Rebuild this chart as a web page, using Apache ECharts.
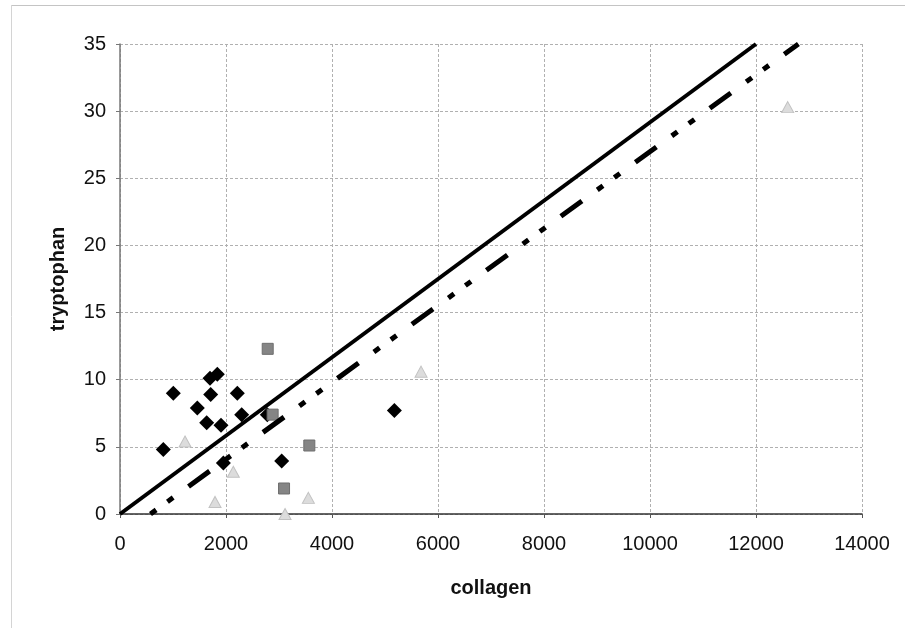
<!DOCTYPE html>
<html>
<head>
<meta charset="utf-8">
<script src="https://cdn.jsdelivr.net/npm/echarts@6/dist/echarts.min.js"></script>
<style>
  html, body { margin: 0; padding: 0; background: #fff; }
  #chart { width: 905px; height: 628px; }
</style>
</head>
<body>
<div id="chart"></div>
<script>
// Group A (black diamonds)
const diamondX = [817, 1006, 1459, 1636, 1698, 1711, 1836, 1906, 1950, 2214, 2296, 2780, 3051, 5177];
const diamondY = [4.8, 9.0, 7.9, 6.8, 10.1, 8.9, 10.4, 6.6, 3.8, 9.0, 7.4, 7.4, 3.95, 7.7];
// Group B (grey squares)
const squareX = [2787, 2880, 3095, 3572];
const squareY = [12.3, 7.4, 1.9, 5.1];
// Group C (light grey triangles)
const triangleX = [1227, 1793, 2138, 3114, 3554, 5680, 12598];
const triangleY = [5.4, 0.9, 3.15, 0, 1.2, 10.6, 30.3];
// Reference lines (end points in data units)
const solidLineX = [0, 12000];
const solidLineY = [0, 35];
const dashLineX = [575, 12800];
const dashLineY = [0, 35];
// Axis ticks
const xTicks = [0, 2000, 4000, 6000, 8000, 10000, 12000, 14000];
const yTicks = [0, 5, 10, 15, 20, 25, 30, 35];

const zip = (xs, ys) => xs.map((x, i) => [x, ys[i]]);
const FONT = '"Liberation Sans", Arial, sans-serif';

const chart = echarts.init(document.getElementById('chart'), null, { renderer: 'canvas' });

chart.setOption({
  animation: false,
  backgroundColor: '#fff',
  grid: { left: 120, right: 43, top: 44, bottom: 114, containLabel: false },
  graphic: [
    { type: 'line', shape: { x1: 11, y1: 5.5, x2: 905, y2: 5.5 }, style: { stroke: '#c4c4c4', lineWidth: 1 } },
    { type: 'line', shape: { x1: 11.5, y1: 5, x2: 11.5, y2: 628 }, style: { stroke: '#d4d4d4', lineWidth: 1 } }
  ],
  xAxis: {
    type: 'value',
    min: xTicks[0],
    max: xTicks[xTicks.length - 1],
    interval: xTicks[1] - xTicks[0],
    name: 'collagen',
    nameLocation: 'middle',
    nameGap: 64,
    nameTextStyle: { fontFamily: FONT, fontSize: 20, fontWeight: 'bold', color: '#111' },
    axisLine: { show: true, lineStyle: { color: '#333', width: 1.5 } },
    axisTick: { show: true, length: 4, lineStyle: { color: '#555' } },
    axisLabel: { fontFamily: FONT, fontSize: 20, color: '#111', margin: 20, formatter: v => String(v) },
    splitLine: { show: true, lineStyle: { color: '#b0b0b0', width: 1, type: [3, 2] } }
  },
  yAxis: {
    type: 'value',
    min: yTicks[0],
    max: yTicks[yTicks.length - 1],
    interval: yTicks[1] - yTicks[0],
    name: 'tryptophan',
    nameLocation: 'middle',
    nameGap: 52,
    nameRotate: 90,
    nameTextStyle: { fontFamily: FONT, fontSize: 20, fontWeight: 'bold', color: '#111' },
    axisLine: { show: true, lineStyle: { color: '#777', width: 1.5 } },
    axisTick: { show: true, length: 4, lineStyle: { color: '#777' } },
    axisLabel: { fontFamily: FONT, fontSize: 20, color: '#111', margin: 14 },
    splitLine: { show: true, lineStyle: { color: '#b0b0b0', width: 1, type: [3, 2] } }
  },
  series: [
    {
      name: 'A',
      type: 'scatter',
      data: zip(diamondX, diamondY),
      symbol: 'diamond',
      symbolSize: [15, 15],
      itemStyle: { color: '#000', opacity: 1 },
      z: 2
    },
    {
      name: 'B',
      type: 'scatter',
      data: zip(squareX, squareY),
      symbol: 'rect',
      symbolSize: 11,
      itemStyle: { color: '#858585', borderColor: '#6e6e6e', borderWidth: 1, opacity: 1 },
      z: 3
    },
    {
      name: 'C',
      type: 'scatter',
      data: zip(triangleX, triangleY),
      symbol: 'triangle',
      symbolSize: [12, 11],
      itemStyle: { color: '#dcdcdc', borderColor: '#c2c2c2', borderWidth: 1, opacity: 1 },
      z: 3
    },
    {
      name: 'solid',
      type: 'line',
      data: zip(solidLineX, solidLineY),
      symbol: 'none',
      lineStyle: { color: '#000', width: 4 },
      z: 5
    },
    {
      name: 'dashdot',
      type: 'line',
      data: zip(dashLineX, dashLineY),
      symbol: 'none',
      lineStyle: { color: '#000', width: 5, type: [7, 14, 7, 19, 26, 19], cap: 'butt' },
      z: 5
    }
  ]
});
</script>
</body>
</html>
